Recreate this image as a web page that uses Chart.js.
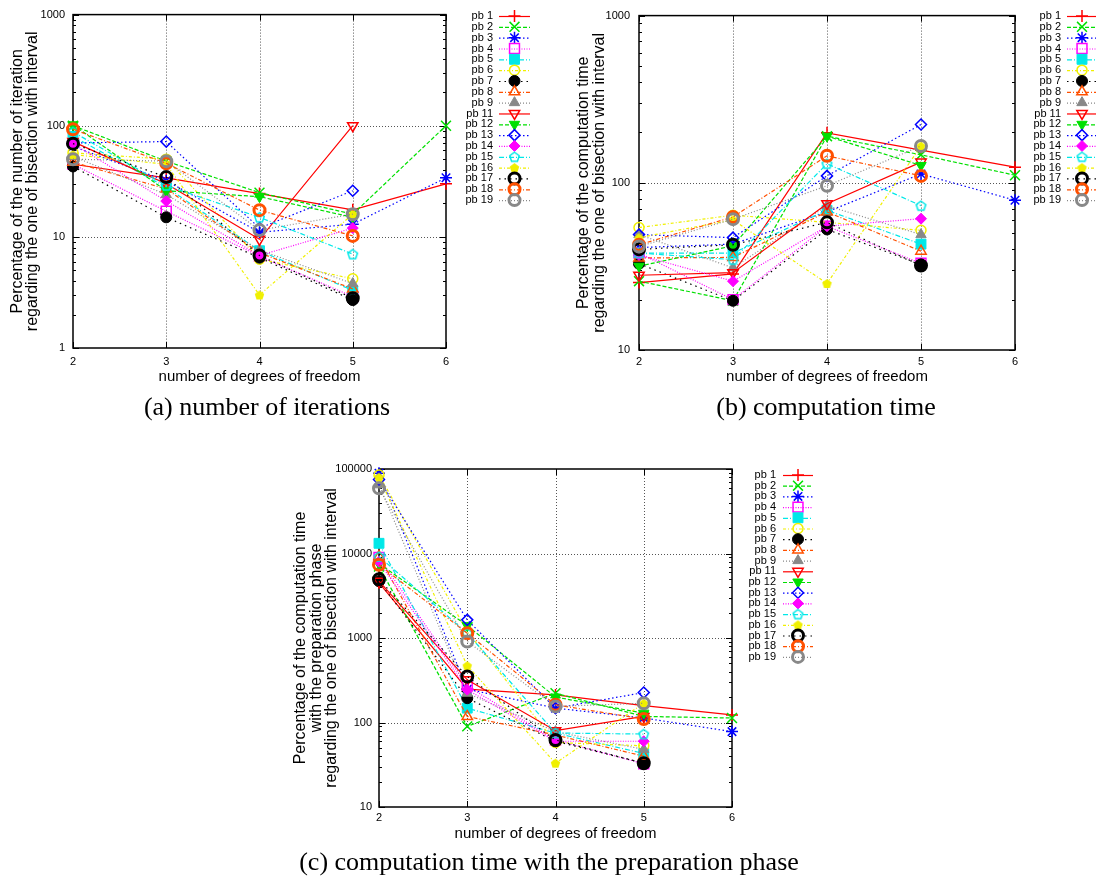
<!DOCTYPE html>
<html><head><meta charset="utf-8">
<script src="https://cdn.jsdelivr.net/npm/chart.js@4.4.1/dist/chart.umd.min.js"></script>
<style>
html,body{margin:0;padding:0;background:#fff;}
body{width:1096px;height:883px;position:relative;overflow:hidden;}
canvas{position:absolute;}
.cap{position:absolute;font-family:"Liberation Serif","Times New Roman",serif;font-size:26px;color:#000;white-space:nowrap;text-align:center;line-height:30px;}
</style></head><body>
<canvas id="cA" width="548" height="395" style="left:0px;top:0px"></canvas>
<canvas id="cB" width="548" height="395" style="left:548px;top:0px"></canvas>
<canvas id="cC" width="560" height="400" style="left:270px;top:455px"></canvas>
<div class="cap" style="left:67px;top:392px;width:400px">(a) number of iterations</div>
<div class="cap" style="left:626px;top:392px;width:400px">(b) computation time</div>
<div class="cap" style="left:249px;top:847px;width:600px">(c) computation time with the preparation phase</div>
<script>
// ---------------- data ----------------
const degrees = [2, 3, 4, 5, 6];
const problemNames = ['pb 1','pb 2','pb 3','pb 4','pb 5','pb 6','pb 7','pb 8','pb 9',
                      'pb 11','pb 12','pb 13','pb 14','pb 15','pb 16','pb 17','pb 18','pb 19'];
const iterTicks = [1, 10, 100, 1000];
const timeTicks = [10, 100, 1000];
const prepTicks = [10, 100, 1000, 10000, 100000];

// (a) percentage of the number of iterations, per problem, at 2..6 dof
const iterationValues = [
  [45, 34, 24.5, 17.5, 30],
  [100, 48, 25, 16, 100],
  [65, 32, 11, 13, 34],
  [45, 17, 6.7, 2.9, null],
  [80, 28, 7.5, 3.3, null],
  [57, 50, 6.3, 4.2, null],
  [43, 15, 6.5, 2.7, null],
  [47, 27, 7.2, 3.4, null],
  [53, 24, 7.6, 3.8, null],
  [72, 30, 9.5, 100, null],
  [102, 26, 23, 15, null],
  [70, 72, 12, 26, null],
  [69, 21, 6.8, 12, null],
  [88, 29, 15, 7.0, null],
  [55, 45, 3.0, 16, null],
  [69, 34.5, 6.8, 2.8, null],
  [93, 46, 17.4, 10.2, null],
  [50, 48, 11.5, 16, null]
];
// (b) percentage of the computation time
const timeValues = [
  [25.3, 28.5, 199, 157, 124],
  [25.8, 19.7, 190, 147, 111],
  [41, 43, 67, 113, 78.6],
  [38, 20, 55, 33, null],
  [38, 38, 68.5, 43, null],
  [54, 64, 58, 52, null],
  [32.8, 19.7, 52.6, 32.4, null],
  [35.5, 35.8, 67, 39, null],
  [49, 31, 73, 49, null],
  [28, 29, 75, 133, null],
  [31.7, 42, 190, 127, null],
  [49, 47, 110, 223, null],
  [37, 25.8, 55, 61, null],
  [38, 34.7, 130, 73, null],
  [47, 60, 25, 166, null],
  [40, 42.6, 58, 32, null],
  [42.6, 62.5, 145, 110, null],
  [41.6, 60.6, 96, 166, null]
];
// (c) percentage of the computation time with the preparation phase
const prepTimeValues = [
  [4500, 248, 212, 158, 123],
  [7000, 90, 222, 118, 113],
  [89000, 248, 148, 113, 78],
  [9000, 270, 62, 32.5, null],
  [13200, 148, 75, 43, null],
  [85000, 1190, 58, 53, null],
  [4700, 194, 60, 33, null],
  [9200, 118, 71, 40, null],
  [65000, 222, 78, 48, null],
  [4700, 320, 80, 118, null],
  [7600, 1400, 200, 129, null],
  [75000, 1640, 148, 226, null],
  [8000, 245, 60, 60, null],
  [9200, 1140, 75, 73, null],
  [80000, 470, 33, 169, null],
  [4970, 350, 62, 33, null],
  [7350, 1140, 162, 110, null],
  [59000, 910, 155, 169, null]
];

// ---------------- styles ----------------
const FONT = '"Liberation Sans", Arial, Helvetica, sans-serif';
const baseColors = ['#ff0000','#00e000','#0000ff','#ff00ff','#00e8e8','#f0f000','#000000','#ff5000','#888888'];
const baseDashes = [[], [4,2], [1.5,2.5], [1,1.5], [5,2,1,2], [3,2,1,2], [1.5,4], [4,2,1,2], [1,2]];
const colors = baseColors.concat(baseColors);
const dashes = baseDashes.concat(baseDashes);

function pentagon(color, filled) {
  const c = document.createElement('canvas'); c.width = 13; c.height = 13;
  const g = c.getContext('2d');
  g.beginPath();
  for (let k = 0; k < 5; k++) {
    const a = -Math.PI / 2 + k * 2 * Math.PI / 5;
    const px = 6.5 + 5 * Math.cos(a), py = 7 + 5 * Math.sin(a);
    if (k) g.lineTo(px, py); else g.moveTo(px, py);
  }
  g.closePath();
  if (filled) { g.fillStyle = color; g.fill(); } else { g.strokeStyle = color; g.lineWidth = 1.5; g.stroke(); }
  return c;
}
const markerSpecs = [
  {style:'cross', r:6, bw:1.5, fill:false},
  {style:'crossRot', r:7, bw:1.5, fill:false},
  {style:'star', r:6, bw:1.5, fill:false},
  {style:'rect', r:7, bw:1.5, fill:false},
  {style:'rect', r:7, bw:1, fill:true},
  {style:'circle', r:5, bw:1.5, fill:false},
  {style:'circle', r:5.5, bw:1, fill:true},
  {style:'triangle', r:6, bw:1.5, fill:false},
  {style:'triangle', r:6, bw:1, fill:true},
  {style:'triangle', r:6, bw:1.5, fill:false, rot:180},
  {style:'triangle', r:6, bw:1, fill:true, rot:180},
  {style:'rectRot', r:5.5, bw:1.5, fill:false},
  {style:'rectRot', r:5.5, bw:1, fill:true},
  {style:pentagon(colors[13], false), r:6, bw:1, fill:false},
  {style:pentagon(colors[14], true), r:6, bw:1, fill:true},
  {style:'circle', r:5.5, bw:3, fill:false},
  {style:'circle', r:5.5, bw:3, fill:false},
  {style:'circle', r:5.5, bw:3, fill:false}
];

function buildDatasets(values) {
  return values.map((vals, i) => {
    const m = markerSpecs[i], col = colors[i];
    const pts = [];
    degrees.forEach((d, k) => { if (vals[k] != null) pts.push({x: d, y: vals[k]}); });
    return {
      label: problemNames[i], data: pts,
      borderColor: col, backgroundColor: col, borderWidth: 1.2, borderDash: dashes[i],
      pointStyle: m.style, pointRadius: m.r, pointBorderWidth: m.bw, pointBorderColor: col,
      pointBackgroundColor: m.fill ? col : 'rgba(0,0,0,0)', pointRotation: m.rot || 0,
      pointHoverRadius: m.r, fill: false, tension: 0, clip: false, order: values.length - i
    };
  });
}

function logTicks(min, max) {
  const out = [];
  for (let p = min; p < max; p *= 10) for (let m = 1; m < 10; m++) out.push({value: Math.round(m * p * 1000) / 1000});
  out.push({value: max});
  return out;
}

const framePlugin = {
  id: 'frame',
  beforeDatasetsDraw(chart, args, opts) {
    const {ctx, chartArea: a, scales: {x, y}} = chart;
    const majors = opts.majors || [];
    const seg = (x1, y1, x2, y2) => { ctx.beginPath(); ctx.moveTo(x1, y1); ctx.lineTo(x2, y2); ctx.stroke(); };
    ctx.save();
    ctx.strokeStyle = '#555'; ctx.lineWidth = 1; ctx.setLineDash([1, 2]);
    y.ticks.forEach(t => {
      if (majors.includes(t.value) && t.value > y.min && t.value < y.max) {
        const py = Math.round(y.getPixelForValue(t.value)) + 0.5; seg(a.left, py, a.right, py);
      }
    });
    x.ticks.forEach(t => {
      if (t.value > x.min && t.value < x.max) {
        const px = Math.round(x.getPixelForValue(t.value)) + 0.5; seg(px, a.top, px, a.bottom);
      }
    });
    ctx.setLineDash([]); ctx.strokeStyle = '#000'; ctx.lineWidth = 1;
    y.ticks.forEach(t => {
      const len = majors.includes(t.value) ? 6 : 3;
      const py = Math.round(y.getPixelForValue(t.value)) + 0.5;
      seg(a.left, py, a.left + len, py); seg(a.right - len, py, a.right, py);
    });
    x.ticks.forEach(t => {
      const px = Math.round(x.getPixelForValue(t.value)) + 0.5;
      seg(px, a.bottom, px, a.bottom - 6); seg(px, a.top, px, a.top + 6);
    });
    ctx.lineWidth = 1.5;
    ctx.strokeRect(a.left, a.top, a.right - a.left, a.bottom - a.top);
    ctx.restore();
  }
};

const legendPlugin = {
  id: 'gnuLegend',
  afterDraw(chart, args, o) {
    const ctx = chart.ctx;
    ctx.save();
    ctx.font = '11px ' + FONT;
    ctx.textAlign = 'right'; ctx.textBaseline = 'middle';
    chart.data.datasets.forEach((ds, i) => {
      const yy = o.top + i * o.step;
      ctx.fillStyle = '#000'; ctx.setLineDash([]);
      ctx.fillText(ds.label, o.textRight, yy);
      ctx.strokeStyle = ds.borderColor; ctx.lineWidth = ds.borderWidth; ctx.setLineDash(ds.borderDash);
      ctx.beginPath(); ctx.moveTo(o.sampleLeft, yy + 0.5); ctx.lineTo(o.sampleRight, yy + 0.5); ctx.stroke();
      ctx.setLineDash([]);
      ctx.fillStyle = ds.pointBackgroundColor; ctx.strokeStyle = ds.pointBorderColor; ctx.lineWidth = ds.pointBorderWidth;
      Chart.helpers.drawPoint(ctx, {pointStyle: ds.pointStyle, rotation: ds.pointRotation, radius: ds.pointRadius, borderWidth: ds.pointBorderWidth},
        (o.sampleLeft + o.sampleRight) / 2, yy);
    });
    ctx.restore();
  }
};

function makeChart(id, values, majors, L) {
  const yMin = majors[0], yMax = majors[majors.length - 1];
  return new Chart(document.getElementById(id), {
    type: 'line',
    data: {datasets: buildDatasets(values)},
    options: {
      responsive: false, animation: false, devicePixelRatio: 1,
      events: [],
      layout: {padding: {left: 0, right: L.padRight, top: L.padTop, bottom: 0}},
      scales: {
        x: {
          type: 'linear', min: degrees[0], max: degrees[degrees.length - 1],
          afterFit: s => { s.height = L.xH; },
          afterBuildTicks: s => { s.ticks = degrees.map(v => ({value: v})); },
          grid: {display: false, drawTicks: false}, border: {display: false},
          ticks: {padding: L.xTickPad, color: '#000', font: {family: FONT, size: 11}, maxRotation: 0, autoSkip: false, callback: v => String(v)},
          title: {display: true, text: 'number of degrees of freedom', color: '#000', font: {family: FONT, size: 15, lineHeight: '16px'}, padding: {top: 0, bottom: L.xTitlePad}}
        },
        y: {
          type: 'logarithmic', min: yMin, max: yMax,
          afterFit: s => { s.width = L.yW; },
          afterBuildTicks: s => { s.ticks = logTicks(yMin, yMax); },
          grid: {display: false, drawTicks: false}, border: {display: false},
          ticks: {padding: L.yTickPad, color: '#000', font: {family: FONT, size: 11}, autoSkip: false, callback: v => majors.includes(v) ? String(v) : ''},
          title: {display: true, text: L.yTitle, color: '#000', font: {family: FONT, size: 16, lineHeight: L.yLine}, padding: {top: L.yTitlePad, bottom: 0}}
        }
      },
      plugins: {
        legend: {display: false}, tooltip: {enabled: false},
        frame: {majors: majors},
        gnuLegend: L.legend
      }
    },
    plugins: [framePlugin, legendPlugin]
  });
}

makeChart('cA', iterationValues, iterTicks, {
  padRight: 102, padTop: 13, xH: 47, yW: 73, xTickPad: 7, xTitlePad: 10, yTickPad: 8, yTitlePad: 10.5, yLine: '15px',
  yTitle: ['Percentage of the number of iteration', 'regarding the one of bisection with interval'],
  legend: {top: 16, step: 10.83, textRight: 493, sampleLeft: 499, sampleRight: 530}
});
makeChart('cB', timeValues, timeTicks, {
  padRight: 81, padTop: 12, xH: 45, yW: 91, xTickPad: 5, xTitlePad: 10, yTickPad: 9, yTitlePad: 27.5, yLine: '16px',
  yTitle: ['Percentage of the computation time', 'regarding the one of bisection with interval'],
  legend: {top: 16, step: 10.83, textRight: 513, sampleLeft: 519, sampleRight: 549}
});
makeChart('cC', prepTimeValues, prepTicks, {
  padRight: 98, padTop: 14, xH: 48, yW: 109, xTickPad: 4.5, xTitlePad: 13, yTickPad: 7, yTitlePad: 22.5, yLine: '15.8px',
  yTitle: ['Percentage of the computation time', 'with the preparation phase', 'regarding the one of bisection with interval'],
  legend: {top: 20, step: 10.7, textRight: 506, sampleLeft: 513, sampleRight: 543}
});
</script>
</body></html>
